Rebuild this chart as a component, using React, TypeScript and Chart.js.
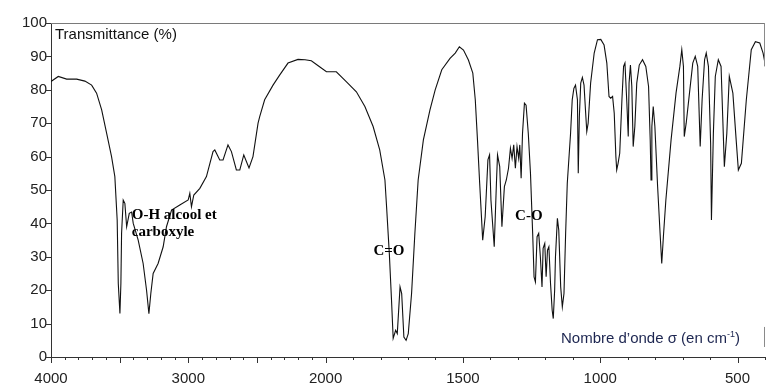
import React, { useEffect, useRef } from 'react';
import { Chart, LinearScale, registerables } from 'chart.js';

// Wavenumbers (cm-1) and transmittance (%)
const WAVENUMBERS = [
  4000, 3947, 3886, 3813, 3753, 3704, 3668, 3631, 3595, 3559, 3535, 3518, 3510, 3498, 3491, 3486,
  3474, 3462, 3449, 3430, 3413, 3401, 3365, 3329, 3304, 3287, 3273, 3256, 3220, 3183, 3159, 3122,
  3062, 3001, 2989, 2977, 2960, 2916, 2868, 2820, 2807, 2771, 2747, 2711, 2686, 2650, 2625, 2596,
  2558, 2529, 2492, 2480, 2444, 2383, 2335, 2274, 2201, 2150, 2104, 2044, 1997, 1961, 1924, 1888,
  1857, 1827, 1803, 1784, 1778, 1768, 1760, 1754, 1745, 1739, 1729, 1723, 1715, 1707, 1699, 1687,
  1675, 1663, 1644, 1620, 1601, 1577, 1547, 1528, 1513, 1498, 1480, 1464, 1455, 1447, 1439, 1428,
  1419, 1409, 1403, 1398, 1386, 1378, 1374, 1366, 1358, 1349, 1342, 1334, 1327, 1321, 1315, 1309,
  1303, 1297, 1293, 1288, 1283, 1276, 1270, 1262, 1254, 1246, 1241, 1236, 1230, 1224, 1218, 1212,
  1208, 1202, 1197, 1192, 1187, 1181, 1175, 1171, 1166, 1163, 1156, 1151, 1144, 1138, 1132, 1126,
  1120, 1108, 1102, 1096, 1090, 1083, 1080, 1076, 1071, 1065, 1059, 1053, 1049, 1044, 1035, 1022,
  1010, 998, 986, 976, 968, 962, 955, 949, 943, 940, 935, 929, 921, 915, 910, 903,
  898, 895, 890, 885, 880, 874, 867, 858, 846, 834, 824, 818, 815, 812, 807, 801,
  791, 782, 776, 770, 761, 742, 724, 710, 703, 697, 694, 687, 675, 663, 654, 645,
  636, 629, 620, 614, 606, 598, 595, 588, 581, 570, 560, 554, 548, 539, 530, 517,
  505, 497, 486, 468, 450, 435, 419, 407, 400,
];
const TRANSMITTANCE = [
  82.5, 84.0, 83.2, 83.2, 82.6, 81.4, 79.0, 74.0, 67.0, 60.0, 54.0, 41, 22, 13, 22, 37,
  47, 46, 39, 43, 43.4, 40, 35, 28, 20, 13, 19, 25, 28, 33, 39, 44,
  45.5, 47, 49, 45, 48.5, 50.5, 54, 61.5, 62, 59, 59, 63.5, 61.5, 56, 56, 60.5,
  56.6, 60, 70, 72, 77, 81.4, 84.4, 88, 89.1, 89.0, 88.7, 86.9, 85.4, 85.4, 82.4, 79.4,
  75, 69, 62, 53, 45, 31, 17, 5.6, 8, 7, 21, 19, 6, 5, 7, 19,
  37, 53, 65, 74, 80, 86, 89.4, 91, 92.9, 91.9, 88.9, 85, 77, 65, 52, 35,
  42, 59, 60.5, 47, 33, 52, 60.5, 57, 39, 51, 53, 56.5, 62.5, 59.5, 63.5, 56.5,
  63, 59.5, 63.5, 53.5, 67, 76, 75.4, 67, 55, 37, 24, 22.5, 36, 37, 30, 21,
  32.5, 34, 24, 32, 33, 22, 14, 11.5, 20, 30, 41.5, 38, 21, 15, 19, 37,
  52, 67, 77, 80.4, 81.4, 77, 55, 72, 82, 83.7, 81.4, 73, 67.5, 70, 82, 91,
  95, 95.1, 93.4, 88, 78, 77.5, 78, 73, 60, 56, 58, 61, 77, 87, 88, 76,
  66, 82, 87.4, 81, 63, 69, 82, 87.4, 89, 87, 81, 65, 53, 69, 75, 69,
  51, 37, 28, 36, 47, 65, 79, 87, 92, 87, 66, 70, 79, 88, 90, 87,
  63, 77, 89, 91, 87, 64, 41, 67, 84, 89, 87, 72, 57, 67, 84, 79,
  65, 56, 58, 77, 92, 94.4, 94, 91, 88,
];

const X_TICKS = [4000, 3000, 2000, 1500, 1000, 500];
const Y_TICKS = [0, 10, 20, 30, 40, 50, 60, 70, 80, 90, 100];
const X_MIN = 400;
const X_MAX = 4000;
const X_BREAK = 2000; // scale doubles below 2000 cm-1
const MINOR_STEP = 100;
const MAJOR_STEP = 500;

const Y_TITLE = 'Transmittance (%)';
const X_TITLE = 'Nombre d\u2019onde \u03c3 (en cm';
const X_TITLE_SUP = '-1';
const BAND_LABELS = ['O-H alcool et', 'carboxyle', 'C=O', 'C-O'];

const TOTAL_UNITS = (X_MAX - X_BREAK) + 2 * (X_BREAK - X_MIN);

class IRScale extends LinearScale {
  static id = 'irscale';
  static defaults = LinearScale.defaults;
  getPixelForValue(value: number) {
    if (value === null || value === undefined || isNaN(value)) return NaN;
    const u = value >= X_BREAK ? X_MAX - value : (X_MAX - X_BREAK) + 2 * (X_BREAK - value);
    return this.getPixelForDecimal(u / TOTAL_UNITS);
  }
  getValueForPixel(pixel: number) {
    const u = this.getDecimalForPixel(pixel) * TOTAL_UNITS;
    if (u <= X_MAX - X_BREAK) return X_MAX - u;
    return X_BREAK - (u - (X_MAX - X_BREAK)) / 2;
  }
}

Chart.register(...registerables, IRScale);

const SANS = '"Liberation Sans", Arial, sans-serif';
const SERIF = '"Liberation Serif", "Times New Roman", serif';

const decorPlugin = {
  id: 'irDecor',
  afterDraw(chart: any) {
    const ctx: CanvasRenderingContext2D = chart.ctx;
    const xs = chart.scales.x;
    const ys = chart.scales.y;
    const { left, right, top, bottom } = chart.chartArea;
    ctx.save();
    // top frame
    ctx.lineWidth = 1;
    ctx.strokeStyle = '#7a7a7a';
    ctx.beginPath();
    ctx.moveTo(left, Math.round(top) + 0.5);
    ctx.lineTo(right, Math.round(top) + 0.5);
    ctx.stroke();
    // right frame (partially visible in reference)
    const rx = Math.round(right) - 0.5;
    ctx.strokeStyle = '#8a8a8a';
    ctx.beginPath();
    ctx.moveTo(rx, top);
    ctx.lineTo(rx, ys.getPixelForValue(87));
    ctx.moveTo(rx, ys.getPixelForValue(9));
    ctx.lineTo(rx, ys.getPixelForValue(3));
    ctx.stroke();
    // x ticks
    ctx.strokeStyle = '#333';
    ctx.beginPath();
    for (let v = X_MAX; v >= X_MIN; v -= MINOR_STEP) {
      const px = Math.round(xs.getPixelForValue(v)) + 0.5;
      const len = v % MAJOR_STEP === 0 ? 6 : 3;
      ctx.moveTo(px, bottom);
      ctx.lineTo(px, bottom + len);
    }
    // y ticks
    for (const v of Y_TICKS) {
      const py = Math.round(ys.getPixelForValue(v)) + 0.5;
      ctx.moveTo(left - 6, py);
      ctx.lineTo(left, py);
    }
    ctx.stroke();

    // titles
    ctx.textAlign = 'left';
    ctx.textBaseline = 'alphabetic';
    ctx.fillStyle = '#111';
    ctx.font = `15px ${SANS}`;
    ctx.fillText(Y_TITLE, xs.getPixelForValue(3971), ys.getPixelForValue(95.3));

    ctx.fillStyle = '#1c2550';
    const tx = xs.getPixelForValue(1143);
    const ty = ys.getPixelForValue(4.1);
    ctx.fillText(X_TITLE, tx, ty);
    let w = ctx.measureText(X_TITLE).width;
    ctx.font = `9px ${SANS}`;
    ctx.fillText(X_TITLE_SUP, tx + w, ty - 6);
    w += ctx.measureText(X_TITLE_SUP).width;
    ctx.font = `15px ${SANS}`;
    ctx.fillText(')', tx + w, ty);

    // band labels
    ctx.fillStyle = '#000';
    ctx.font = `bold 15px ${SERIF}`;
    ctx.fillText(BAND_LABELS[0], xs.getPixelForValue(3412), ys.getPixelForValue(41.4));
    ctx.fillText(BAND_LABELS[1], xs.getPixelForValue(3412), ys.getPixelForValue(36.3));
    ctx.fillText(BAND_LABELS[2], xs.getPixelForValue(1826), ys.getPixelForValue(30.5));
    ctx.fillText(BAND_LABELS[3], xs.getPixelForValue(1310), ys.getPixelForValue(41));
    ctx.restore();
  },
};

export default function App() {
  const ref = useRef<HTMLCanvasElement>(null);
  useEffect(() => {
    if (!ref.current) return;
    const chart = new Chart(ref.current, {
      type: 'line',
      data: {
        datasets: [
          {
            data: WAVENUMBERS.map((x, i) => ({ x, y: TRANSMITTANCE[i] })),
            borderColor: '#111',
            borderWidth: 1.1,
            pointRadius: 0,
            tension: 0,
            fill: false,
          },
        ],
      },
      options: {
        animation: false,
        responsive: false,
        events: [],
        layout: { padding: { top: 23, right: 6, left: 0, bottom: 0 } },
        plugins: { legend: { display: false }, tooltip: { enabled: false } },
        scales: {
          x: {
            type: 'irscale' as any,
            min: X_MIN,
            max: X_MAX,
            afterBuildTicks: (s: any) => {
              s.ticks = X_TICKS.map((v) => ({ value: v }));
            },
            afterFit: (s: any) => {
              s.height = 28;
            },
            grid: { display: false, drawTicks: false },
            border: { display: true, color: '#333', width: 1 },
            ticks: {
              padding: 13,
              color: '#222',
              maxRotation: 0,
              autoSkip: false,
              font: { family: SANS, size: 15 },
              callback: (v: any) => String(v),
            },
          },
          y: {
            type: 'linear',
            min: 0,
            max: 100,
            afterBuildTicks: (s: any) => {
              s.ticks = Y_TICKS.map((v) => ({ value: v }));
            },
            afterFit: (s: any) => {
              s.width = 51;
            },
            grid: { display: false, drawTicks: false },
            border: { display: true, color: '#333', width: 1 },
            ticks: {
              padding: 4,
              color: '#222',
              font: { family: SANS, size: 15 },
              callback: (v: any) => String(v),
            },
          },
        },
      } as any,
      plugins: [decorPlugin],
    });
    return () => chart.destroy();
  }, []);
  return (
    <div style={{ position: 'fixed', left: 0, top: 0, width: 771, height: 385, background: '#fff' }}>
      <canvas ref={ref} width={771} height={385} style={{ display: 'block' }} />
    </div>
  );
}
